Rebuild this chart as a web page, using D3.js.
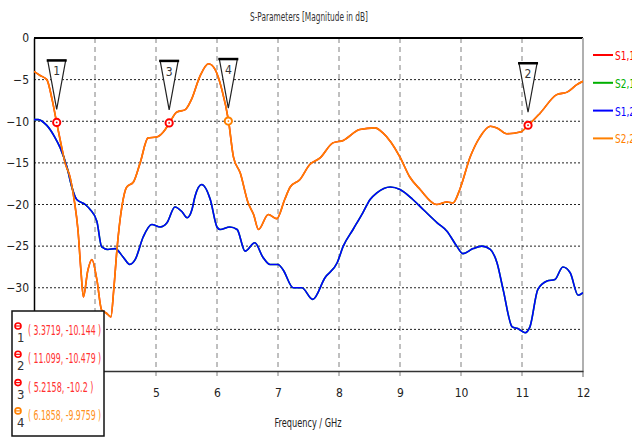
<!DOCTYPE html>
<html>
<head>
<meta charset="utf-8">
<script src="https://cdn.jsdelivr.net/npm/d3@7"></script>
<style>
  html, body { margin: 0; padding: 0; background: #fff; overflow: hidden; }
  svg { display: block; }
  text { font-family: "Liberation Sans Narrow", "DejaVu Sans Condensed", "Liberation Sans", sans-serif; }
</style>
</head>
<body>
<svg id="chart" width="632" height="437"></svg>
<script>
// Frequency axis ticks (GHz) and magnitude ticks (dB)
const xTicks = [3, 4, 5, 6, 7, 8, 9, 10, 11, 12];
const yTicks = [0, -5, -10, -15, -20, -25, -30, -35, -40];

// S2,2 magnitude (dB) vs frequency (GHz)
const s22Freq = [3.00, 3.10, 3.21, 3.30, 3.37, 3.45, 3.51, 3.59, 3.66, 3.72, 3.77, 3.81, 3.88, 3.95, 4.03, 4.11, 4.18, 4.26, 4.31, 4.36,
  4.44, 4.52, 4.63, 4.74, 4.87, 5.01, 5.12, 5.22, 5.34, 5.48, 5.58, 5.72, 5.86, 5.97, 6.08, 6.19, 6.27, 6.38, 6.51, 6.60,
  6.68, 6.84, 6.98, 7.11, 7.20, 7.36, 7.52, 7.69, 7.90, 8.07, 8.34, 8.59, 8.72, 9.00, 9.16, 9.33, 9.60, 9.77, 9.87, 9.98,
  10.15, 10.31, 10.48, 10.59, 10.75, 10.97, 11.10, 11.30, 11.57, 11.74, 11.90, 12.00];
const s22dB = [-4.0, -4.5, -5.0, -7.5, -10.1, -13.0, -15.0, -16.7, -19.5, -23.0, -28.0, -31.1, -28.0, -26.6, -29.0, -32.7, -33.0, -33.5, -30.0, -25.4,
  -20.3, -17.9, -17.3, -15.0, -12.0, -11.9, -11.3, -10.2, -8.9, -8.6, -7.4, -4.6, -3.1, -3.8, -6.2, -10.0, -14.3, -16.2, -19.8, -21.2,
  -23.0, -21.2, -21.7, -19.4, -17.9, -17.0, -15.2, -14.4, -12.6, -12.3, -11.0, -10.8, -11.4, -14.3, -16.7, -18.2, -20.0, -19.7, -19.8, -18.2,
  -14.3, -11.9, -10.6, -10.8, -11.5, -11.3, -10.5, -9.0, -6.8, -6.5, -5.6, -5.2];

// S1,2 magnitude (dB) vs frequency (GHz)
const s12Freq = [3.00, 3.07, 3.21, 3.34, 3.43, 3.54, 3.62, 3.70, 3.84, 3.92, 4.03, 4.11, 4.21, 4.33, 4.46, 4.57, 4.66, 4.79, 4.93, 5.07,
  5.18, 5.31, 5.43, 5.51, 5.59, 5.64, 5.75, 5.89, 6.00, 6.05, 6.21, 6.33, 6.46, 6.62, 6.75, 6.87, 7.00, 7.08, 7.25, 7.39,
  7.57, 7.77, 7.97, 8.07, 8.23, 8.39, 8.51, 8.62, 8.84, 9.00, 9.21, 9.38, 9.61, 9.77, 9.93, 10.03, 10.20, 10.34, 10.48, 10.59,
  10.69, 10.84, 10.93, 11.05, 11.13, 11.26, 11.41, 11.54, 11.67, 11.79, 11.92, 12.00];
const s12dB = [-9.8, -9.8, -10.5, -11.9, -13.2, -15.5, -17.9, -19.4, -20.0, -20.6, -22.0, -25.1, -25.4, -25.3, -26.3, -27.2, -26.6, -23.9, -22.4, -22.7,
  -22.2, -20.3, -20.9, -21.6, -20.6, -19.0, -17.6, -19.4, -22.7, -23.0, -22.7, -23.0, -25.6, -24.6, -26.3, -27.2, -27.2, -27.8, -30.0, -30.0,
  -31.4, -28.8, -27.0, -25.0, -23.0, -21.0, -19.4, -18.6, -17.9, -18.2, -19.4, -20.6, -22.2, -23.2, -25.0, -25.9, -25.3, -25.0, -25.4, -27.0,
  -30.2, -34.7, -34.9, -35.4, -34.7, -30.2, -29.2, -29.0, -27.5, -28.2, -30.9, -30.6];

// The structure is symmetric: S1,1 follows S2,2 and S2,1 follows S1,2
const s11dB = s22dB;
const s21dB = s12dB;

const seriesNames = ["S1,1", "S2,1", "S1,2", "S2,2"];
const seriesColors = ["#ff0000", "#00b000", "#0000ff", "#ff8000"];

// Marker readouts: id, frequency, magnitude, trace index
const markerIds = ["1", "2", "3", "4"];
const markerFreq = [3.3719, 11.099, 5.2158, 6.1858];
const markerdB = [-10.144, -10.479, -10.2, -9.9759];
const markerTrace = [0, 0, 0, 3];

const svg = d3.select("#chart");
const plotL = 34, plotR = 583, plotT = 38, plotB = 371;

const x = d3.scaleLinear().domain([3, 12]).range([plotL, plotR]);
const y = d3.scaleLinear().domain([-40, 0]).range([plotB, plotT]);

// Title
svg.append("text").attr("x", 309).attr("y", 21).attr("text-anchor", "middle")
  .attr("font-size", 13).attr("fill", "#333")
  .attr("textLength", 118).attr("lengthAdjust", "spacingAndGlyphs")
  .text("S-Parameters [Magnitude in dB]");

// Vertical grid (dashed grey), extending a little below the axis as ticks
svg.append("g").selectAll("line").data(xTicks.filter(d => d > 3 && d < 12)).join("line")
  .attr("x1", d => x(d)).attr("x2", d => x(d)).attr("y1", plotT).attr("y2", plotB + 7)
  .attr("stroke", "#808080").attr("stroke-width", 1).attr("stroke-dasharray", "5,4");

// Horizontal grid (dotted black)
svg.append("g").selectAll("line").data(yTicks.filter(d => d < 0 && d > -40)).join("line")
  .attr("x1", plotL).attr("x2", plotR).attr("y1", d => y(d)).attr("y2", d => y(d))
  .attr("stroke", "#222").attr("stroke-width", 1).attr("stroke-dasharray", "2,2");

// Frame: black top, grey right edge
svg.append("line").attr("x1", plotL).attr("x2", plotR).attr("y1", plotT).attr("y2", plotT)
  .attr("stroke", "#000").attr("stroke-width", 2);
svg.append("line").attr("x1", plotR).attr("x2", plotR).attr("y1", plotT).attr("y2", plotB + 6)
  .attr("stroke", "#b0b0b0").attr("stroke-width", 2);

// Axes drawn through d3-axis, then restyled; the 3 and 4 GHz and -40 dB labels sit under the readout box
const xAxis = svg.append("g").attr("transform", `translate(0,${plotB})`)
  .call(d3.axisBottom(x).tickValues(xTicks).tickSize(0).tickPadding(17)
    .tickFormat(d => d < 5 ? "" : d3.format("d")(d)));
xAxis.select(".domain").attr("stroke", "#333").attr("stroke-width", 1.5);
xAxis.selectAll("text").attr("font-size", 12).attr("fill", "#222");

const yAxis = svg.append("g").attr("transform", `translate(${plotL},0)`)
  .call(d3.axisLeft(y).tickValues(yTicks).tickSize(0).tickPadding(5)
    .tickFormat(d => d < -30 ? "" : d3.format("d")(d)));
yAxis.select(".domain").attr("stroke", "#000").attr("stroke-width", 1.5);
yAxis.selectAll("text").attr("font-size", 12).attr("fill", "#222");

// X axis title
svg.append("text").attr("x", 308).attr("y", 427).attr("text-anchor", "middle")
  .attr("font-size", 13).attr("fill", "#222")
  .attr("textLength", 67).attr("lengthAdjust", "spacingAndGlyphs")
  .text("Frequency / GHz");

// Traces
const traces = [
  { freq: s22Freq, vals: s11dB },
  { freq: s12Freq, vals: s21dB },
  { freq: s12Freq, vals: s12dB },
  { freq: s22Freq, vals: s22dB }
];
const line = d3.line().x(d => x(d[0])).y(d => y(d[1])).curve(d3.curveMonotoneX);
svg.append("clipPath").attr("id", "plotClip").append("rect")
  .attr("x", plotL).attr("y", plotT).attr("width", plotR - plotL).attr("height", plotB - plotT);
const plot = svg.append("g").attr("clip-path", "url(#plotClip)");
traces.forEach((t, i) => {
  plot.append("path")
    .datum(t.freq.map((f, j) => [f, t.vals[j]]))
    .attr("d", line).attr("fill", "none")
    .attr("stroke", seriesColors[i]).attr("stroke-width", 1.6);
});

// Legend on the right (runs into the page edge)
const legend = svg.append("g");
seriesNames.forEach((name, i) => {
  const ly = 55 + i * 27.8;
  legend.append("line").attr("x1", 593).attr("x2", 613).attr("y1", ly).attr("y2", ly)
    .attr("stroke", seriesColors[i]).attr("stroke-width", 2);
  legend.append("text").attr("x", 615).attr("y", ly + 5).attr("font-size", 13)
    .attr("textLength", 20).attr("lengthAdjust", "spacingAndGlyphs")
    .attr("fill", seriesColors[i]).text(name);
});

// Marker flags and points
markerIds.forEach((id, i) => {
  const px = x(markerFreq[i]), py = y(markerdB[i]);
  const g = svg.append("g");
  const topY = py - 62, tipY = py - 13;
  g.append("path")
    .attr("d", `M${px - 9},${topY} L${px + 9},${topY} L${px},${tipY} Z`)
    .attr("fill", "#fff").attr("stroke", "#222").attr("stroke-width", 1.2);
  g.append("line").attr("x1", px - 10).attr("x2", px + 10).attr("y1", topY).attr("y2", topY)
    .attr("stroke", "#000").attr("stroke-width", 2.5);
  g.append("text").attr("x", px).attr("y", topY + 15).attr("text-anchor", "middle")
    .attr("font-size", 12).attr("fill", "#333").text(id);
  const c = seriesColors[markerTrace[i]];
  g.append("circle").attr("cx", px).attr("cy", py).attr("r", 3.6)
    .attr("fill", "#fff").attr("stroke", c).attr("stroke-width", 2);
  g.append("circle").attr("cx", px).attr("cy", py).attr("r", 0.9).attr("fill", c);
});

// Marker readout box
const box = svg.append("g");
box.append("rect").attr("x", 12).attr("y", 311).attr("width", 92).attr("height", 125)
  .attr("fill", "#fff").attr("stroke", "#111").attr("stroke-width", 1.5);
markerIds.forEach((id, i) => {
  const ry = 330 + i * 28.3;
  const c = seriesColors[markerTrace[i]];
  box.append("circle").attr("cx", 18).attr("cy", ry - 4).attr("r", 3)
    .attr("fill", "#fff").attr("stroke", c).attr("stroke-width", 1.6);
  box.append("line").attr("x1", 15.5).attr("x2", 20.5).attr("y1", ry - 4).attr("y2", ry - 4)
    .attr("stroke", c).attr("stroke-width", 1.2);
  box.append("text").attr("x", 17).attr("y", ry + 12).attr("font-size", 13).attr("fill", "#333")
    .text(id);
  const label = `( ${markerFreq[i]}, ${markerdB[i]} )`;
  box.append("text").attr("x", 28).attr("y", ry + 5).attr("font-size", 13.5)
    .attr("fill", c === "#ff0000" ? "#ff3030" : "#ff9020")
    .attr("textLength", label.length * 3.85).attr("lengthAdjust", "spacingAndGlyphs")
    .text(label);
});
</script>
</body>
</html>
